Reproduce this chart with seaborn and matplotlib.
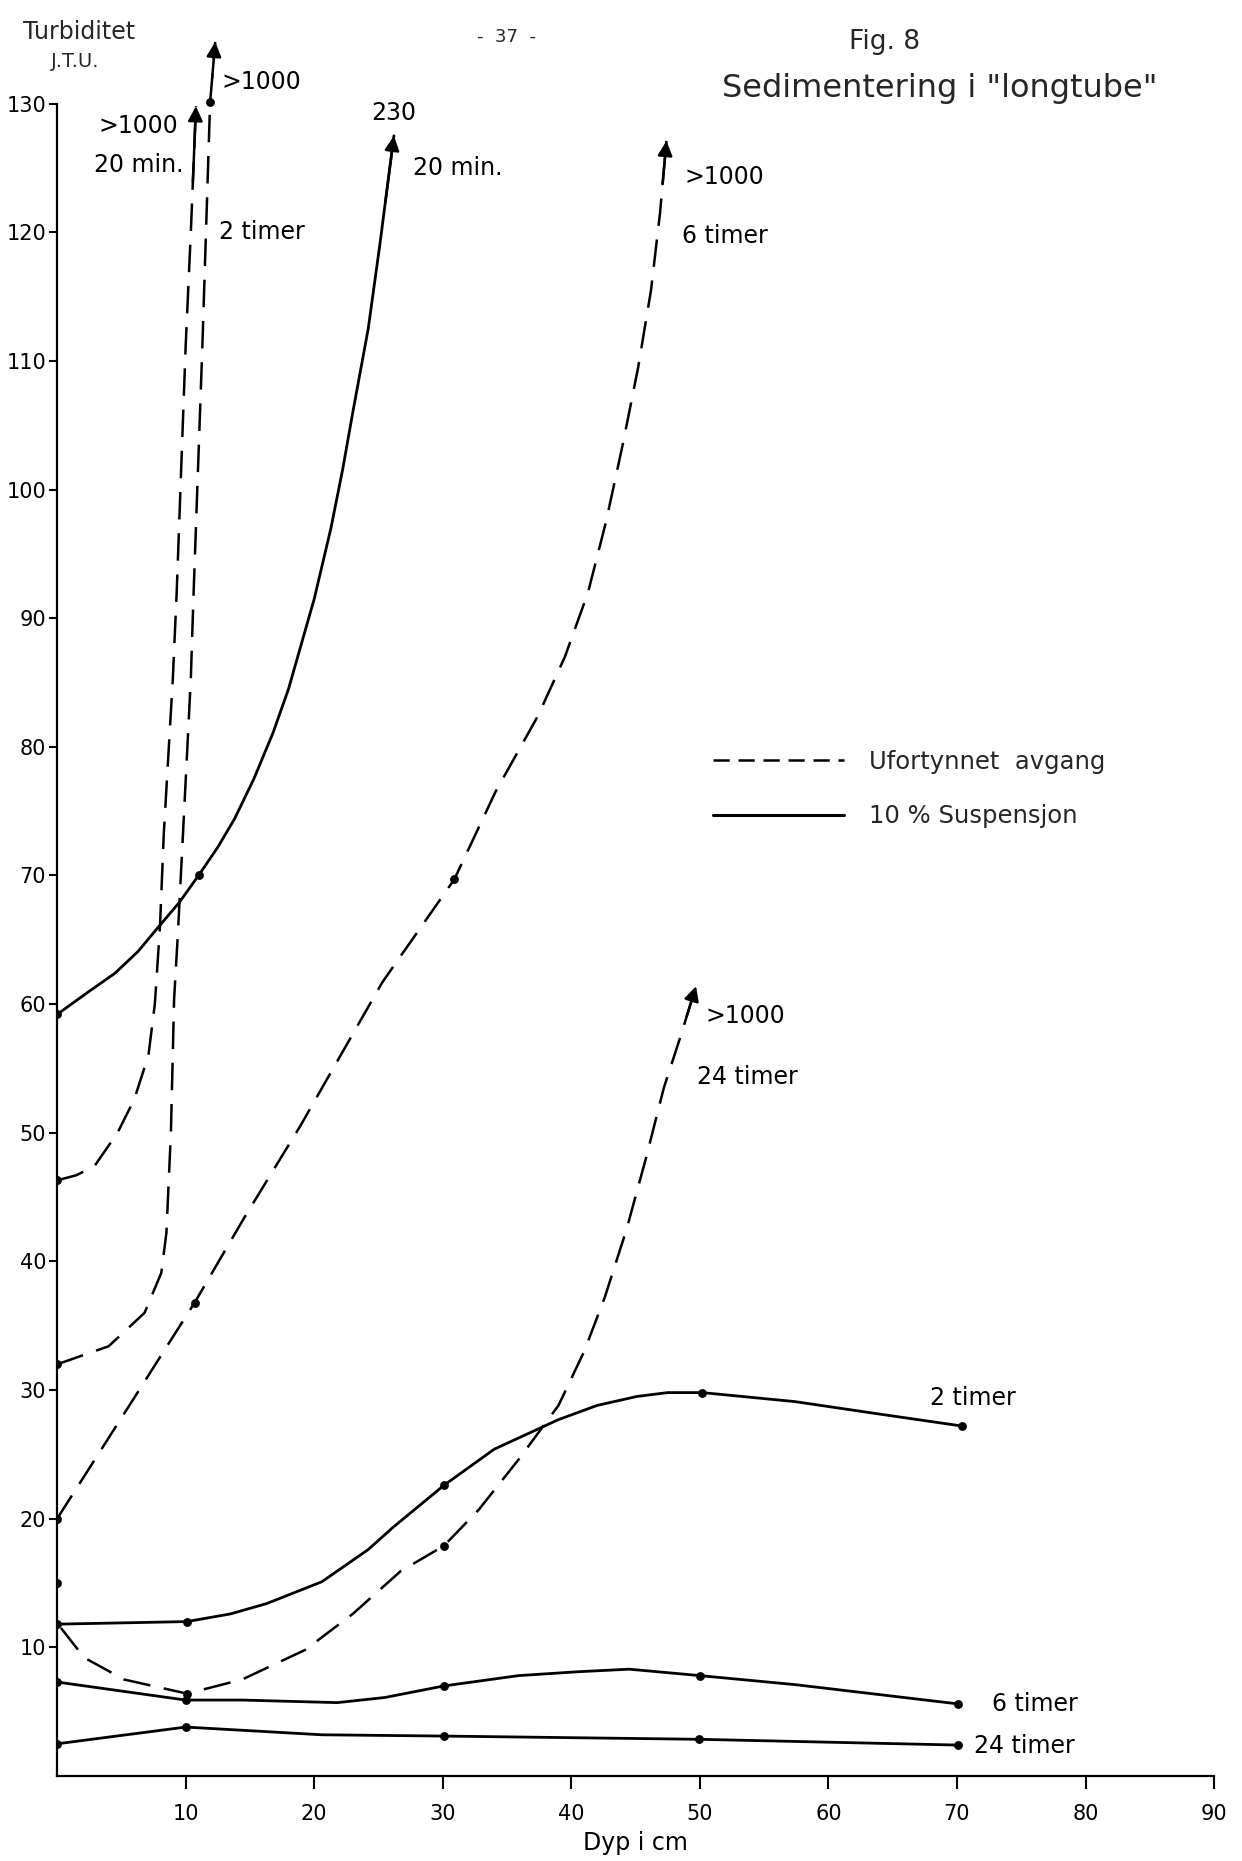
import numpy as np
import pandas as pd
import matplotlib
matplotlib.use("Agg")
import matplotlib.pyplot as plt
import seaborn as sns
from matplotlib.lines import Line2D

# --- curves (depth cm, turbidity J.T.U.) ---
# 10 % Suspensjon (solid)
s20_x = [0, 2.5, 4.5, 6.3, 7.8, 9.5, 11.0, 12.5, 13.8, 15.3, 16.8, 18.0, 19.0, 20.0,
         21.3, 22.2, 23.0, 24.2, 25.1, 26.2]
s20_y = [59.2, 61.0, 62.4, 64.1, 65.9, 67.9, 70.0, 72.2, 74.4, 77.5, 81.1, 84.5, 88.0, 91.5,
         97.0, 101.5, 106.0, 112.5, 119.0, 127.5]
s2_x = [0, 10.1, 13.5, 16.3, 20.6, 24.2, 26.1, 30.1, 34.0, 39.0, 42.0, 45.1, 47.5, 50.2,
        57.4, 63.5, 70.4]
s2_y = [11.8, 12.0, 12.6, 13.4, 15.1, 17.6, 19.3, 22.6, 25.4, 27.7, 28.8, 29.5, 29.8, 29.8,
        29.1, 28.2, 27.2]
s6_x = [0, 5.0, 10.0, 14.4, 21.8, 25.5, 30.1, 35.9, 40.5, 44.5, 50.0, 57.4, 70.1]
s6_y = [7.3, 6.6, 5.9, 5.9, 5.7, 6.1, 7.0, 7.8, 8.1, 8.3, 7.8, 7.1, 5.6]
s24_x = [0, 10.0, 20.6, 30.1, 49.9, 70.1]
s24_y = [2.5, 3.8, 3.2, 3.1, 2.85, 2.4]

# Ufortynnet avgang (dashed)
d20_x = [0, 1.5, 2.9, 4.7, 6.0, 7.1, 7.6, 8.0, 8.3, 9.0, 9.3, 10.0, 10.4, 10.8]
d20_y = [46.3, 46.7, 47.4, 50.0, 52.6, 56.0, 60.0, 66.0, 73.3, 85.3, 92.0, 111.2, 120.0, 129.8]
d2_x = [0, 4.0, 6.8, 8.1, 8.5, 8.85, 9.1, 9.4, 9.9, 10.4, 10.6, 11.3, 11.9, 12.3]
d2_y = [32.0, 33.4, 36.0, 39.1, 42.2, 50.0, 60.4, 65.6, 75.4, 85.3, 91.5, 111.2, 130.1, 134.8]
d6_x = [0, 6.0, 10.7, 14.5, 18.9, 25.3, 30.9, 34.1, 37.4, 39.5, 41.3, 42.7, 44.0, 45.2,
        46.2, 46.9, 47.4]
d6_y = [20.0, 29.4, 36.8, 43.3, 50.5, 61.7, 69.7, 76.5, 82.4, 87.0, 92.0, 97.5, 103.5, 109.5,
        115.5, 121.5, 127.1]
d24_x = [0.3, 2.1, 5.2, 10.1, 14.4, 19.3, 23.0, 26.7, 30.1, 32.8, 35.9, 39.0, 41.0, 42.6,
         44.3, 45.8, 47.2, 48.5, 49.7]
d24_y = [11.5, 9.2, 7.5, 6.4, 7.5, 9.8, 12.6, 15.9, 17.9, 20.7, 24.6, 28.8, 33.0, 37.2,
         42.5, 48.0, 53.5, 57.5, 61.4]

# measured points (dots)
dot_x = [0, 11.0, 0, 10.1, 30.1, 50.2, 70.4, 0, 10.0, 30.1, 50.0, 70.1,
         0, 10.0, 30.1, 49.9, 70.1, 0, 0, 11.9, 0, 10.7, 30.9, 0, 10.1, 30.1]
dot_y = [59.2, 70.0, 11.8, 12.0, 22.6, 29.8, 27.2, 7.3, 5.9, 7.0, 7.8, 5.6,
         2.5, 3.8, 3.1, 2.85, 2.4, 46.3, 32.0, 130.1, 20.0, 36.8, 69.7, 15.0, 6.4, 17.9]

# curve labels
lab_text = [">1000", "20 min.", ">1000", "2 timer", "230", "20 min.", ">1000", "6 timer",
            ">1000", "24 timer", "2 timer", "6 timer", "24 timer"]
lab_x = [9.4, 9.8, 12.8, 12.6, 26.2, 27.7, 48.8, 48.6, 50.4, 49.8, 67.9, 72.7, 71.3]
lab_y = [128.3, 125.2, 131.7, 120.0, 129.3, 125.0, 124.3, 119.7, 59.1, 54.3, 29.4, 5.6, 2.3]
lab_ha = ["right", "right", "left", "left", "center", "left", "left", "left",
          "left", "left", "left", "left", "left"]

x_ticks = [10, 20, 30, 40, 50, 60, 70, 80, 90]
y_ticks = [10, 20, 30, 40, 50, 60, 70, 80, 90, 100, 110, 120, 130]

sns.set_theme(style="white")
plt.rcParams["font.family"] = ["DejaVu Sans"]

fig = plt.figure(figsize=(12.42, 18.61), dpi=100)
ax = fig.add_axes([0.046, 0.0457, 0.9315, 0.947])

dash = (0, (11, 5.5))
solid = [(s20_x, s20_y), (s2_x, s2_y), (s6_x, s6_y), (s24_x, s24_y)]
dashed = [(d20_x, d20_y), (d2_x, d2_y), (d6_x, d6_y), (d24_x, d24_y)]

for xs, ys in solid:
    sns.lineplot(x=xs, y=ys, sort=False, color="black", lw=2.0, ax=ax)
for xs, ys in dashed:
    sns.lineplot(x=xs, y=ys, sort=False, color="black", lw=1.8, linestyle=dash, ax=ax)

sns.scatterplot(x=dot_x, y=dot_y, color="black", s=34, edgecolor="black", zorder=5, ax=ax)

# arrow heads at the ends of the run-away curves
for xs, ys in [(s20_x, s20_y), (d20_x, d20_y), (d2_x, d2_y), (d6_x, d6_y), (d24_x, d24_y)]:
    tip = np.array([xs[-1], ys[-1]])
    prev = np.array([xs[-2], ys[-2]])
    start = tip - 0.6 * (tip - prev)
    ax.annotate("", xy=tip, xytext=start,
                arrowprops=dict(arrowstyle="-|>", color="black", lw=1.8,
                                mutation_scale=22, shrinkA=0, shrinkB=0))

for t, x, y, ha in zip(lab_text, lab_x, lab_y, lab_ha):
    ax.text(x, y, t, ha=ha, va="center", fontsize=17, color="black")

ax.set_xlim(0, 90)
ax.set_ylim(0, 137)
ax.set_xticks(x_ticks)
ax.set_yticks(y_ticks)
ax.tick_params(axis="both", direction="out", width=1.5, labelsize=15,
               colors="black", left=True, bottom=True)
ax.tick_params(axis="x", length=9, pad=11)
ax.tick_params(axis="y", length=6, pad=2)
for side in ["top", "right"]:
    ax.spines[side].set_visible(False)
ax.spines["left"].set_bounds(0, 130)
ax.spines["bottom"].set_bounds(0, 90)
for side in ["left", "bottom"]:
    ax.spines[side].set_color("black")
    ax.spines[side].set_linewidth(1.6)
ax.set_xlabel("Dyp i cm", fontsize=17, labelpad=5, color="black")
ax.set_ylabel("")

handles = [Line2D([], [], color="black", lw=1.8, linestyle=(0, (6.5, 3.5))),
           Line2D([], [], color="black", lw=2.2)]
ax.legend(handles, ["Ufortynnet  avgang", "10 % Suspensjon"], loc="center left",
          bbox_to_anchor=(0.567, 0.560), frameon=False, fontsize=17.5,
          handlelength=5.4, handletextpad=1.0, labelspacing=1.25,
          borderpad=0, borderaxespad=0)

fig.text(0.0636, 0.9828, "Turbiditet", ha="center", va="center", fontsize=17)
fig.text(0.0604, 0.9667, "J.T.U.", ha="center", va="center", fontsize=14)
fig.text(0.408, 0.9800, "-  37  -", ha="center", va="center", fontsize=13)
fig.text(0.7126, 0.9774, "Fig. 8", ha="center", va="center", fontsize=19)
fig.text(0.7568, 0.9527, "Sedimentering i \"longtube\"", ha="center", va="center", fontsize=23)

fig.savefig("out.png", dpi=100, facecolor="white")
